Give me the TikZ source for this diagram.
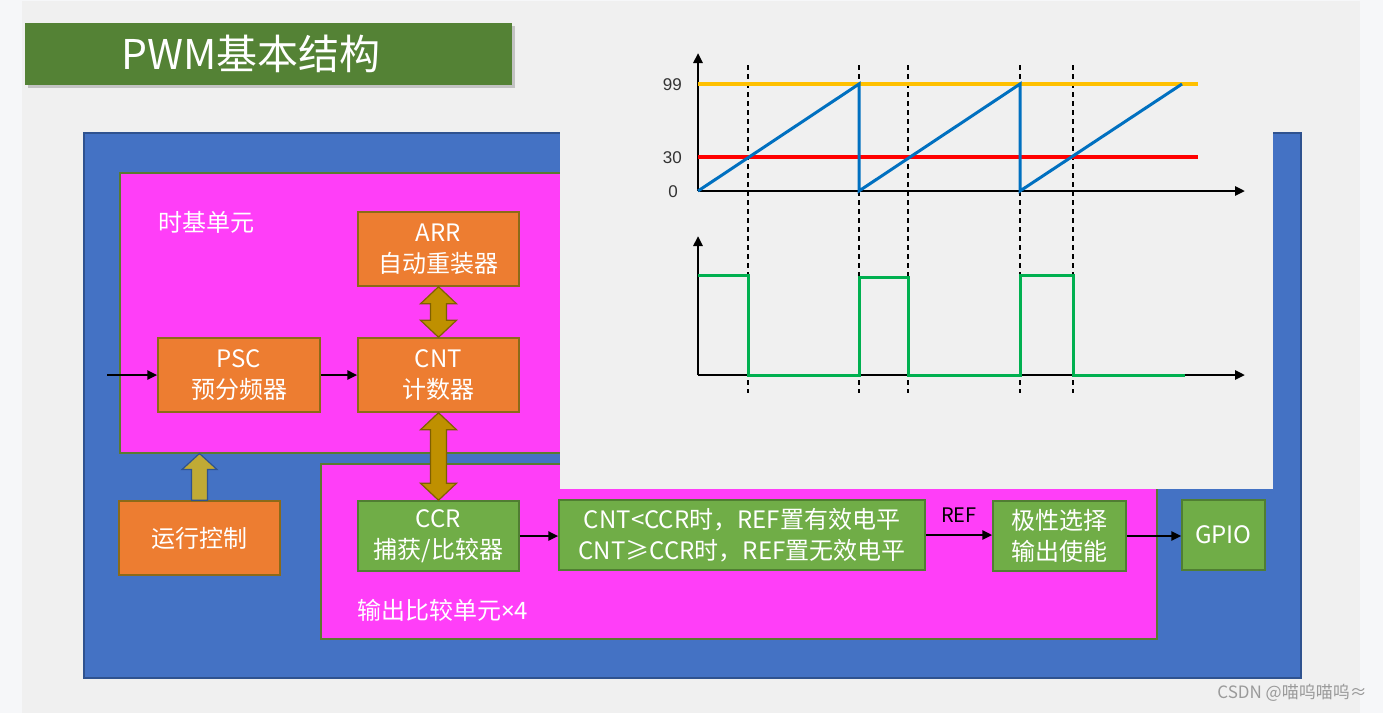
\documentclass[tikz,border=0pt]{standalone}
\usepackage{fontspec}
\setmainfont{Noto Sans CJK SC}
\newfontfamily\numfont{Liberation Sans}
\newfontfamily\latinsans{Noto Sans}
\usetikzlibrary{arrows.meta,calc}
\definecolor{pagebg}{HTML}{F6F7F9}
\definecolor{slidebg}{HTML}{F0F0F0}
\definecolor{titlegreen}{HTML}{548235}
\definecolor{outerblue}{HTML}{4472C4}
\definecolor{outerblueedge}{HTML}{2F528F}
\definecolor{magentafill}{HTML}{FF3EF8}
\definecolor{magentaedge}{HTML}{5A7A30}
\definecolor{orangefill}{HTML}{ED7D31}
\definecolor{orangeedge}{HTML}{8C6A18}
\definecolor{greenfill}{HTML}{70AD47}
\definecolor{greenedge}{HTML}{507E32}
\definecolor{goldfill}{HTML}{BF9000}
\definecolor{goldedge}{HTML}{7F6000}
\definecolor{olivefill}{HTML}{C0AA35}
\definecolor{sawblue}{HTML}{0070C0}
\definecolor{arrlevel}{HTML}{FFC000}
\definecolor{pwmgreen}{HTML}{00B050}
\definecolor{marktext}{HTML}{9A9A9A}
\tikzset{
  boxbase/.style={draw, line width=1.5pt, align=center, text=white, inner sep=0pt,
    font=\fontsize{24}{31}\selectfont},
  orangebox/.style={boxbase, fill=orangefill, draw=orangeedge},
  greenbox/.style={boxbase, fill=greenfill, draw=greenedge},
  unitbox/.style={draw=magentaedge, fill=magentafill, line width=1.5pt, inner sep=0pt, anchor=north west},
  unitlabel/.style={text=white, anchor=west, inner sep=0pt, font=\fontsize{24}{28}\selectfont},
  flow/.style={line width=2.4pt, -{Triangle[length=10pt,width=9pt]}},
  axis/.style={line width=2.8pt, -{Triangle[length=10pt,width=9pt]}},
  goldarrow/.style={fill=goldfill, draw=goldedge, line width=1.2pt, line join=miter},
  runarrow/.style={fill=olivefill, draw=outerblueedge, line width=1.2pt, line join=miter},
  guide/.style={line width=1.5pt, dash pattern=on 5pt off 4pt},
  levelnum/.style={anchor=east, inner sep=0pt, text=black!80, font=\numfont\fontsize{17}{17}\selectfont}
}
\begin{document}
\begin{tikzpicture}[x=1pt,y=-1pt]
\useasboundingbox (0,0) rectangle (1383,713);
% page and slide
\fill[pagebg] (0,0) rectangle (1383,713);
\fill[black!6] (22,1) rectangle (1360,713);
\fill[slidebg] (25,3) rectangle (1357,713);
% title
\fill[black!35, opacity=0.6] (28,26) rectangle (515,88);
\node[fill=titlegreen, minimum width=487pt, minimum height=62pt, anchor=north west, inner sep=0pt] (titlebar) at (25,23) {};
\node[text=white, font=\fontsize{41}{41}\selectfont, inner sep=0pt] (titletext) at (251,54) {PWM基本结构};
% outer blue frame
\node[draw=outerblueedge, fill=outerblue, line width=1.5pt, minimum width=1217pt, minimum height=545pt, anchor=north west, inner sep=0pt] (outer) at (83,132) {};
% time base unit
\node[unitbox, minimum width=980pt, minimum height=280pt] (tb) at (119,172) {};
\node[unitlabel] (tblabel) at (158,222) {时基单元};
% output compare unit
\node[unitbox, minimum width=836pt, minimum height=175pt] (oc) at (320,463) {};
\node[unitlabel] (oclabel) at (357,610) {输出比较单元{\latinsans ×}4};
% chart panel overlay
\fill[slidebg] (560,38) rectangle (1273,489);
% boxes
\node[orangebox, minimum width=161pt, minimum height=74pt] (arr) at (438.5,249) {ARR\\自动重装器};
\node[orangebox, minimum width=161pt, minimum height=74pt] (cnt) at (438.5,375) {CNT\\计数器};
\node[orangebox, minimum width=162pt, minimum height=74pt] (psc) at (239,375) {PSC\\预分频器};
\node[orangebox, minimum width=161pt, minimum height=74pt] (run) at (199.5,538) {运行控制};
\node[greenbox, minimum width=161pt, minimum height=70pt] (ccr) at (438.5,536) {CCR\\捕获/比较器};
\node[greenbox, minimum width=366pt, minimum height=70pt] (cmp) at (742,535) {CNT<CCR时，REF置有效电平\\CNT≥CCR时，REF置无效电平};
\node[greenbox, minimum width=133pt, minimum height=70pt] (pol) at (1059.5,536) {极性选择\\输出使能};
\node[greenbox, minimum width=83pt, minimum height=70pt] (gpio) at (1223.5,535) {GPIO};
% flow arrows
\coordinate (clkin) at (107,375);
\draw[flow] (clkin) -- (psc.west);
\draw[flow] (psc.east) -- (cnt.west);
\draw[flow] (ccr.east) -- (ccr.east -| cmp.west);
\draw[flow] (cmp.east) -- (cmp.east -| pol.west) node[midway, above=11pt, text=black, inner sep=0pt, font=\fontsize{20}{20}\selectfont] (reflabel) {REF};
\draw[flow] (pol.east) -- (pol.east -| gpio.west);
% double block arrows
\draw[goldarrow] (arr.south) -- ++(18,17) -- ++(-10,0) -- ($(cnt.north)+(8,-17)$) -- ++(10,0) -- (cnt.north)
  -- ++(-18,-17) -- ++(10,0) -- ($(arr.south)+(-8,17)$) -- ++(-10,0) -- cycle;
\draw[goldarrow] (cnt.south) -- ++(18,17) -- ++(-10,0) -- ($(ccr.north)+(8,-17)$) -- ++(10,0) -- (ccr.north)
  -- ++(-18,-17) -- ++(10,0) -- ($(cnt.south)+(-8,17)$) -- ++(-10,0) -- cycle;
% run control arrow
\coordinate (runtip) at (run.north |- tb.south);
\draw[runarrow] ($(run.north)+(-8,0)$) -- ($(runtip)+(-8,16)$) -- ($(runtip)+(-17.5,16)$) -- (runtip)
  -- ($(runtip)+(17.5,16)$) -- ($(runtip)+(8,16)$) -- ($(run.north)+(8,0)$) -- cycle;
% ---- chart ----
\foreach \gx in {748,859,908,1020,1073} \draw[guide] (\gx,65) -- (\gx,393);
\draw[axis] (698,191) -- (698,53);
\draw[axis] (698,191) -- (1245,191);
\draw[axis] (698,375) -- (698,236);
\draw[axis] (698,375) -- (1245,375);
\draw[arrlevel, line width=3.2pt] (698,84) -- (1198,84);
\draw[red, line width=3.2pt] (698,157) -- (1198,157);
\draw[sawblue, line width=3pt, line join=miter] (698,191) -- (859,84) -- (859,191) -- (1020,84) -- (1020,191) -- (1182,84);
\draw[pwmgreen, line width=3pt] (698,275) -- (748,275) -- (748,375) -- (859,375) -- (859,277) -- (908,277) -- (908,375) -- (1020,375) -- (1020,275) -- (1073,275) -- (1073,375) -- (1185,375);
\node[levelnum] (l99) at (682,85) {99};
\node[levelnum] (l30) at (682,158) {30};
\node[levelnum] (l0) at (678,192) {0};
% watermark
\node[anchor=east, text=marktext, inner sep=0pt, font=\fontsize{17}{17}\selectfont] (mark) at (1367,693) {CSDN @喵呜喵呜≈};
\end{tikzpicture}
\end{document}
